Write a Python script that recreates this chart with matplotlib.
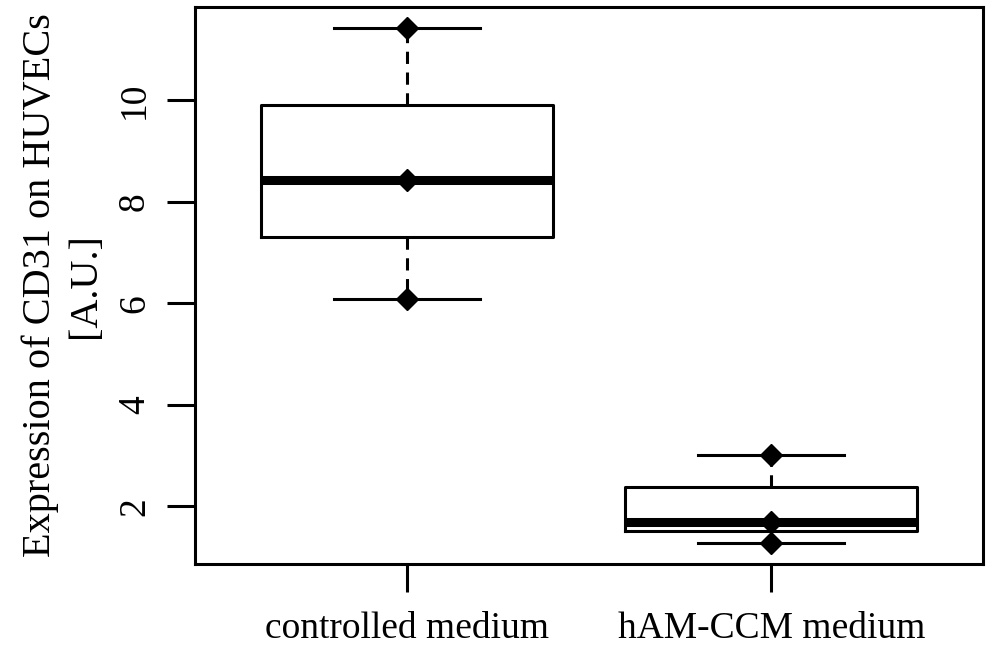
import matplotlib
matplotlib.use("Agg")
import matplotlib.pyplot as plt

# groups and five-number summaries
groups = ["controlled medium", "hAM-CCM medium"]
whisk_lo = [6.08, 1.27]
q1 = [7.31, 1.51]
med = [8.43, 1.69]
q3 = [9.90, 2.37]
whisk_hi = [11.43, 3.00]

# individual points drawn on top (diamonds)
pts_x = [1, 1, 1, 2, 2, 2]
pts_y = [11.43, 8.43, 6.08, 3.00, 1.69, 1.27]

yticks = [2, 4, 6, 8, 10]

plt.rcParams['font.family'] = ['Liberation Serif', 'DejaVu Serif']

fig = plt.figure(figsize=(9.88, 6.49), dpi=100)
ax = fig.add_axes([195/988, (649-564)/649, 788/988, (564-7)/649])

stats = []
for i in range(len(groups)):
    stats.append(dict(whislo=whisk_lo[i], q1=q1[i], med=med[i], q3=q3[i],
                      whishi=whisk_hi[i], fliers=[]))

lw = 2.2
ax.bxp(stats, positions=[1, 2], widths=0.8, capwidths=0.4,
       boxprops=dict(color='black', linewidth=lw),
       whiskerprops=dict(color='black', linewidth=lw, linestyle=(0, (4, 2.8))),
       capprops=dict(color='black', linewidth=lw),
       medianprops=dict(color='black', linewidth=6.5, solid_capstyle='butt'),
       showfliers=False)

ax.plot(pts_x, pts_y, 'D', color='black', markersize=11.5, linestyle='none', zorder=5)

ax.set_xlim(0.42, 2.58)
ax.set_ylim(0.86, 11.84)
ax.set_xticks([1, 2])
ax.set_xticklabels(groups, fontsize=27)
ax.set_yticks(yticks)
ax.set_yticklabels([str(t) for t in yticks], fontsize=27, rotation=90, va='center')
ax.tick_params(axis='both', length=20, width=lw, color='black')
ax.tick_params(axis='x', pad=14)
ax.tick_params(axis='y', pad=11)

for sp in ax.spines.values():
    sp.set_linewidth(lw)

ax.set_ylabel("Expression of CD31 on HUVECs\n[A.U.]", fontsize=29,
              linespacing=1.3, va='center', ha='center', multialignment='center')
ax.yaxis.set_label_coords(-0.168, 0.5)

fig.savefig("out.png", dpi=100)
